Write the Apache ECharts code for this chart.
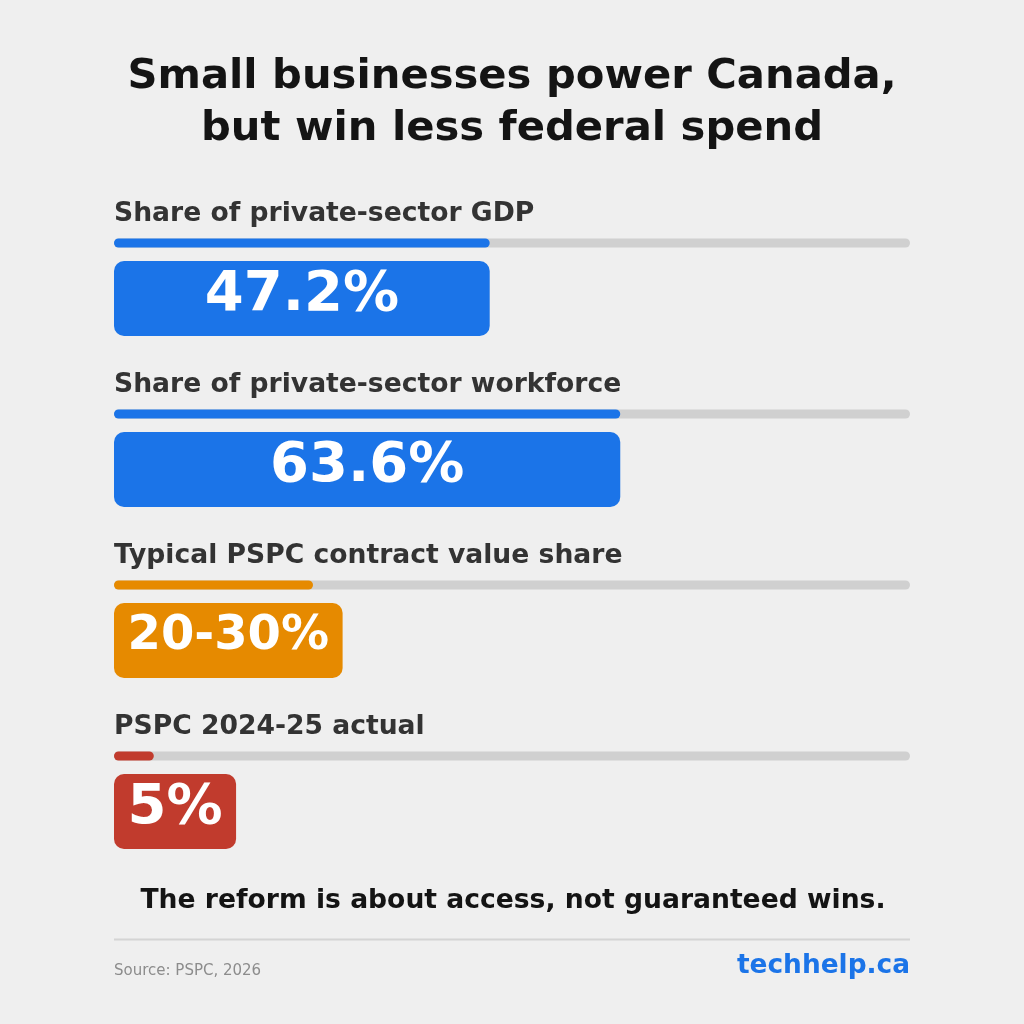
<!DOCTYPE html>
<html>
<head>
<meta charset="utf-8">
<script src="https://cdn.jsdelivr.net/npm/echarts@6/dist/echarts.min.js"></script>
<style>
  html, body { margin: 0; padding: 0; background: #efefef; }
  #chart { width: 1024px; height: 1024px; }
</style>
</head>
<body>
<div id="chart"></div>
<script>
// values
const categories = [
    "Share of private-sector GDP",
    "Share of private-sector workforce",
    "Typical PSPC contract value share",
    "PSPC 2024-25 actual"
];
const values = [47.2, 63.6, 25, 5];
const valueLabels = ["47.2%", "63.6%", "20-30%", "5%"];

const barColors = ["#1b74e8", "#1b74e8", "#e68a00", "#c13b2d"];
const FONT = "DejaVu Sans";

const measureCtx = document.createElement("canvas").getContext("2d");
function textWidth(text, size) {
    measureCtx.font = "bold " + size + "px " + FONT;
    return measureCtx.measureText(text).width;
}

function renderRow(params, api) {
    const v = api.value(0);
    const i = api.value(1);
    const start = api.coord([0, i]);
    const end = api.coord([100, i]);
    const fill = api.coord([v, i]);
    const cy = start[1];
    const color = barColors[i];
    const label = valueLabels[i];

    // long labels get a smaller font, the box grows to fit the text
    const valueSize = label.length > 5 ? 48 : 56;
    const barW = fill[0] - start[0];
    const boxW = Math.max(barW, textWidth(label, valueSize) + 27);

    return {
        type: "group",
        children: [
            {
                type: "text",
                style: {
                    text: categories[i], x: start[0], y: cy - 29,
                    fill: "#333333", font: "bold 26.6px " + FONT,
                    align: "left", verticalAlign: "middle"
                }
            },
            {
                type: "rect",
                shape: { x: start[0], y: cy - 4.5, width: end[0] - start[0], height: 9, r: 4.5 },
                style: { fill: "#d0d0d0" }
            },
            {
                type: "rect",
                shape: { x: start[0], y: cy - 4.5, width: barW, height: 9, r: 4.5 },
                style: { fill: color }
            },
            {
                type: "rect",
                shape: { x: start[0], y: cy + 18, width: boxW, height: 75, r: 10 },
                style: { fill: color }
            },
            {
                type: "text",
                style: {
                    text: label, x: start[0] + boxW / 2, y: cy + 52,
                    fill: "#ffffff", font: "bold " + valueSize + "px " + FONT,
                    align: "center", verticalAlign: "middle"
                }
            }
        ]
    };
}

const chart = echarts.init(document.getElementById("chart"));
chart.setOption({
    backgroundColor: "#efefef",
    animation: false,
    grid: { left: 114, right: 114, top: 157.5, height: 684 },
    xAxis: { type: "value", min: 0, max: 100, show: false },
    yAxis: { type: "category", data: categories, inverse: true, show: false },
    series: [{
        type: "custom",
        renderItem: renderRow,
        clip: false,
        encode: { x: 0, y: 1 },
        data: values.map((v, i) => [v, i])
    }],
    graphic: [
        {
            type: "text", x: 512, y: 77.2,
            style: {
                text: "Small businesses power Canada,",
                fill: "#141414", font: "bold 41.7px " + FONT,
                align: "center", verticalAlign: "middle"
            }
        },
        {
            type: "text", x: 512, y: 128.8,
            style: {
                text: "but win less federal spend",
                fill: "#141414", font: "bold 41.7px " + FONT,
                align: "center", verticalAlign: "middle"
            }
        },
        {
            type: "text", x: 513, y: 900.8,
            style: {
                text: "The reform is about access, not guaranteed wins.",
                fill: "#141414", font: "bold 26.6px " + FONT,
                align: "center", verticalAlign: "middle"
            }
        },
        {
            type: "line",
            shape: { x1: 114, y1: 939.5, x2: 910, y2: 939.5 },
            style: { stroke: "#d4d4d4", lineWidth: 2 }
        },
        {
            type: "text", x: 114, y: 971.3,
            style: {
                text: "Source: PSPC, 2026",
                fill: "#8c8c8c", font: "15px " + FONT,
                align: "left", verticalAlign: "middle"
            }
        },
        {
            type: "text", x: 910, y: 966.5,
            style: {
                text: "techhelp.ca",
                fill: "#1b74e8", font: "bold 26.4px " + FONT,
                align: "right", verticalAlign: "middle"
            }
        }
    ]
});

window.addEventListener("resize", () => chart.resize());
</script>
</body>
</html>
